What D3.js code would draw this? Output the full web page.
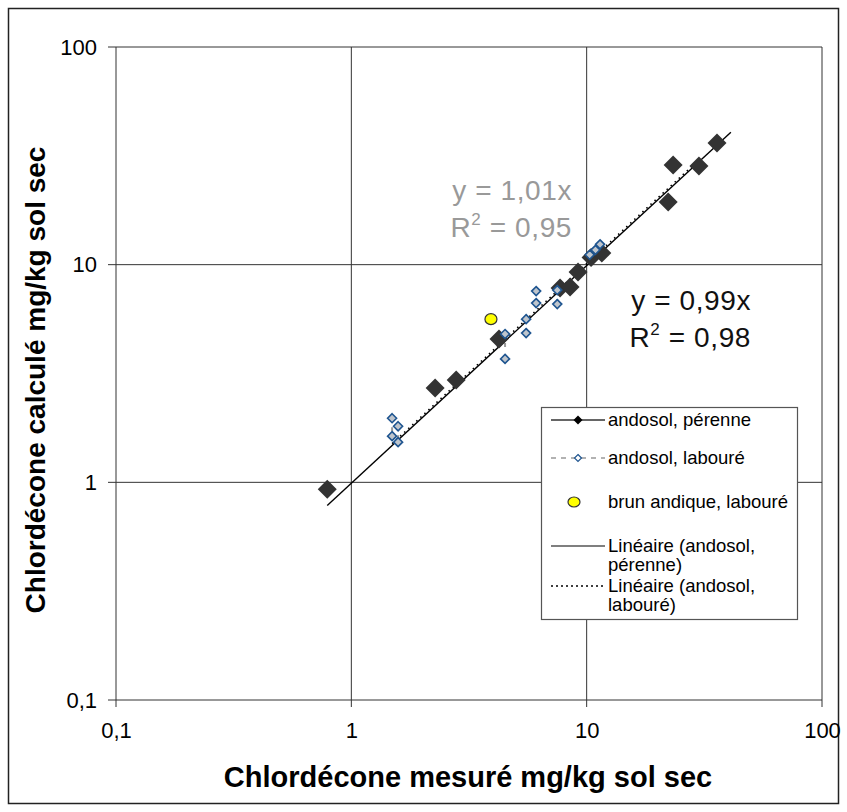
<!DOCTYPE html>
<html>
<head>
<meta charset="utf-8">
<script src="https://cdn.jsdelivr.net/npm/d3@7"></script>
<style>
  body { margin: 0; background: #fff; }
  text { font-family: "Liberation Sans", Arial, sans-serif; }
</style>
</head>
<body>
<svg id="viz" width="847" height="812"></svg>
<script>
// andosol, pérenne (measured vs calculated, mg/kg)
const perenneX = [0.79, 2.27, 2.79, 4.24, 7.71, 8.50, 9.19, 10.44, 11.6, 22.2, 23.3, 30.0, 35.8];
const perenneY = [0.93, 2.71, 2.95, 4.55, 7.81, 7.90, 9.25, 10.8, 11.3, 19.4, 28.7, 28.4, 36.2];

// andosol, labouré
const labX = [1.49, 1.49, 1.58, 1.58, 4.50, 4.50, 5.53, 5.53, 6.10, 6.10, 7.50, 7.50, 10.3, 10.9, 11.4];
const labY = [1.97, 1.63, 1.81, 1.53, 4.80, 3.69, 5.62, 4.85, 7.56, 6.66, 7.64, 6.59, 11.1, 11.7, 12.4];

// brun andique, labouré
const brunX = [3.92];
const brunY = [5.62];

// trend lines (y = a*x) and their x ranges
const trendPerenne = { slope: 0.99, range: [0.79, 41] };
const trendLab = { slope: 1.01, range: [1.49, 28] };

const tickValues = [0.1, 1, 10, 100];
const legendLabels = ["andosol, pérenne", "andosol, labouré", "brun andique, labouré",
                      ["Linéaire (andosol,", "pérenne)"], ["Linéaire (andosol,", "labouré)"]];

const svg = d3.select("#viz");
const fmt = d => String(d).replace(".", ",");

// outer frame
svg.append("rect")
    .attr("x", 8.5).attr("y", 8.5)
    .attr("width", 830).attr("height", 795)
    .attr("fill", "#fff")
    .attr("stroke", "#222")
    .attr("stroke-width", 1.5);

const plot = { left: 116, right: 822, top: 47, bottom: 700 };

const x = d3.scaleLog().domain([0.1, 100]).range([plot.left, plot.right]);
const y = d3.scaleLog().domain([0.1, 100]).range([plot.bottom, plot.top]);

// grid
const grid = svg.append("g");
tickValues.forEach(v => {
    grid.append("line")
        .attr("x1", x(v)).attr("x2", x(v))
        .attr("y1", plot.top).attr("y2", plot.bottom + 7)
        .attr("stroke", "#333").attr("stroke-width", 1);
    grid.append("line")
        .attr("x1", plot.left - 8).attr("x2", plot.right)
        .attr("y1", y(v)).attr("y2", y(v))
        .attr("stroke", "#333").attr("stroke-width", 1);
});

// axes labels
const yAxis = d3.axisLeft(y).tickValues(tickValues).tickFormat(fmt).tickSize(0).tickPadding(19);
svg.append("g")
    .attr("transform", `translate(${plot.left},0)`)
    .call(yAxis)
    .call(g => g.select(".domain").remove())
    .selectAll("text")
    .attr("font-size", "22px")
    .attr("fill", "#000")
    .attr("font-family", "Liberation Sans, Arial, sans-serif");

const xAxis = d3.axisBottom(x).tickValues(tickValues).tickFormat(fmt).tickSize(0).tickPadding(22);
svg.append("g")
    .attr("transform", `translate(0,${plot.bottom})`)
    .call(xAxis)
    .call(g => g.select(".domain").remove())
    .selectAll("text")
    .attr("font-size", "22px")
    .attr("fill", "#000")
    .attr("font-family", "Liberation Sans, Arial, sans-serif");

// axis titles
svg.append("text")
    .attr("x", 468).attr("y", 787)
    .attr("text-anchor", "middle")
    .attr("font-size", "29px")
    .attr("font-weight", "bold")
    .text("Chlordécone mesuré mg/kg sol sec");

svg.append("text")
    .attr("transform", "translate(45,380) rotate(-90)")
    .attr("text-anchor", "middle")
    .attr("font-size", "28px")
    .attr("font-weight", "bold")
    .text("Chlordécone calculé mg/kg sol sec");

// trend lines
const trendLine = (t) => t.range.map(v => [x(v), y(v * t.slope)]);
svg.append("path")
    .attr("d", d3.line()(trendLine(trendPerenne)))
    .attr("stroke", "#000").attr("stroke-width", 1.4).attr("fill", "none");
svg.append("path")
    .attr("d", d3.line()(trendLine(trendLab)))
    .attr("stroke", "#000").attr("stroke-width", 1.6)
    .attr("stroke-dasharray", "1.5,4").attr("fill", "none");

// labouré pair connectors (dashed gray, same measured value)
const labPts = labX.map((v, i) => ({ x: v, y: labY[i] }));
labPts.forEach((p, i) => {
    const q = labPts[i + 1];
    if (q && q.x === p.x && i % 2 === 0) {
        svg.append("line")
            .attr("x1", x(p.x)).attr("x2", x(q.x))
            .attr("y1", y(p.y)).attr("y2", y(q.y))
            .attr("stroke", "#999").attr("stroke-width", 2)
            .attr("stroke-dasharray", "0,9,4,40");
    }
});

const diamond = (cx, cy, r) => `M${cx},${cy - r}L${cx + r},${cy}L${cx},${cy + r}L${cx - r},${cy}Z`;

// pérenne diamonds
svg.append("g").selectAll("path")
    .data(perenneX.map((v, i) => ({ x: v, y: perenneY[i] })))
    .join("path")
    .attr("d", d => diamond(x(d.x), y(d.y), 9.5))
    .attr("fill", "#333");

// labouré diamonds
svg.append("g").selectAll("path")
    .data(labPts)
    .join("path")
    .attr("d", d => diamond(x(d.x), y(d.y), 4.5))
    .attr("fill", "#bfc5cc")
    .attr("stroke", "#1f5590")
    .attr("stroke-width", 1.6);

// brun andique
svg.append("g").selectAll("ellipse")
    .data(brunX.map((v, i) => ({ x: v, y: brunY[i] })))
    .join("ellipse")
    .attr("cx", d => x(d.x)).attr("cy", d => y(d.y))
    .attr("rx", 6).attr("ry", 5.5)
    .attr("fill", "#ffff00")
    .attr("stroke", "#333").attr("stroke-width", 1.2);

// equations
const eq = [
    { lines: ["y = 1,01x", "R2 = 0,95"], x: 572, y: 200, color: "#999" },
    { lines: ["y = 0,99x", "R2 = 0,98"], x: 751, y: 310, color: "#111" }
];
eq.forEach(e => {
    svg.append("text")
        .attr("x", e.x).attr("y", e.y)
        .attr("text-anchor", "end")
        .attr("font-size", "28px")
        .attr("letter-spacing", "0.6px")
        .attr("fill", e.color)
        .text(e.lines[0]);
    const t = svg.append("text")
        .attr("x", e.x).attr("y", e.y + 37)
        .attr("text-anchor", "end")
        .attr("font-size", "28px")
        .attr("letter-spacing", "0.6px")
        .attr("fill", e.color);
    t.append("tspan").text("R");
    t.append("tspan").attr("font-size", "17px").attr("dy", -12).text("2");
    t.append("tspan").attr("dy", 12).text(" = " + e.lines[1].split(" = ")[1]);
});

// legend
const lg = svg.append("g");
lg.append("rect")
    .attr("x", 541.5).attr("y", 407.5)
    .attr("width", 256).attr("height", 212)
    .attr("fill", "#fff")
    .attr("stroke", "#555").attr("stroke-width", 1.2);

const lx0 = 551, lx1 = 605, lcx = 578, tx = 608;
const rowY = [420, 458, 502, 546, 586];

// pérenne entry
lg.append("line").attr("x1", lx0).attr("x2", lx1).attr("y1", rowY[0]).attr("y2", rowY[0])
    .attr("stroke", "#333").attr("stroke-width", 1.5);
lg.append("path").attr("d", diamond(lcx, rowY[0], 4.5)).attr("fill", "#000");

// labouré entry
lg.append("line").attr("x1", lx0).attr("x2", lx1).attr("y1", rowY[1]).attr("y2", rowY[1])
    .attr("stroke", "#999").attr("stroke-width", 1.5).attr("stroke-dasharray", "5,5");
lg.append("path").attr("d", diamond(lcx, rowY[1], 3.5))
    .attr("fill", "#fff").attr("stroke", "#1f5590").attr("stroke-width", 1.2);

// brun entry
lg.append("ellipse").attr("cx", lcx - 4).attr("cy", rowY[2]).attr("rx", 6).attr("ry", 5)
    .attr("fill", "#ffff00").attr("stroke", "#333").attr("stroke-width", 1.2);

// trend entries
lg.append("line").attr("x1", lx0).attr("x2", lx1).attr("y1", rowY[3]).attr("y2", rowY[3])
    .attr("stroke", "#000").attr("stroke-width", 1.2);
lg.append("line").attr("x1", lx0).attr("x2", lx1).attr("y1", rowY[4]).attr("y2", rowY[4])
    .attr("stroke", "#000").attr("stroke-width", 1.6).attr("stroke-dasharray", "2,3");

legendLabels.forEach((lab, i) => {
    const lines = Array.isArray(lab) ? lab : [lab];
    lines.forEach((s, j) => {
        lg.append("text")
            .attr("x", tx).attr("y", rowY[i] + 6 + j * 19)
            .attr("font-size", "18.5px")
            .attr("fill", "#000")
            .text(s);
    });
});
</script>
</body>
</html>
